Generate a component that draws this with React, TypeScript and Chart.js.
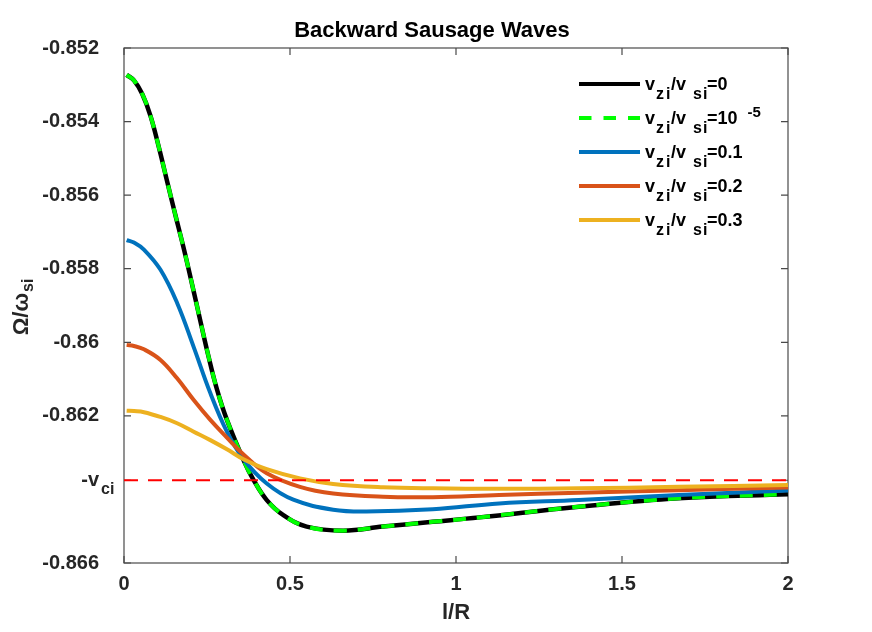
import React, { useEffect, useRef } from "react";
import { Chart, registerables } from "chart.js";

Chart.register(...registerables);

const FONT = "'Liberation Sans', Arial, Helvetica, sans-serif";
const TEXT = "#262626";

const titleText = "Backward Sausage Waves";
const xAxisTitle = "l/R";

const xTickValues = [0, 0.5, 1, 1.5, 2];
const yTickValues = [-0.866, -0.86375, -0.862, -0.86, -0.858, -0.856, -0.854, -0.852];
const yTickLabels = ["-0.866", "-v", "-0.862", "-0.86", "-0.858", "-0.856", "-0.854", "-0.852"];
const vciLevel = -0.86375;

// v_zi/v_si = 0 (and 1e-5, identical)
const lrZero = [0.008, 0.03, 0.055, 0.08, 0.105, 0.13, 0.155, 0.18, 0.205, 0.23, 0.255, 0.28, 0.31, 0.36, 0.39, 0.43, 0.48, 0.55, 0.66, 0.78, 0.93, 1.07, 1.37, 1.67, 2.0];
const omegaZero = [-0.85273, -0.85288, -0.85325, -0.85385, -0.8547, -0.85563, -0.85655, -0.85745, -0.85842, -0.85942, -0.8604, -0.86128, -0.86211, -0.8632, -0.86374, -0.86429, -0.8647, -0.86501, -0.86512, -0.86501, -0.86488, -0.86476, -0.86447, -0.86424, -0.86413];
const lrTiny = lrZero;
const omegaTiny = omegaZero;

// v_zi/v_si = 0.1
const lrBlue = [0.008, 0.03, 0.06, 0.11, 0.16, 0.21, 0.26, 0.31, 0.36, 0.43, 0.51, 0.63, 0.73, 0.93, 1.13, 1.37, 1.67, 2.0];
const omegaBlue = [-0.85722, -0.85729, -0.85748, -0.85803, -0.85893, -0.86013, -0.86138, -0.86243, -0.86318, -0.86384, -0.86428, -0.86455, -0.8646, -0.86454, -0.86438, -0.86429, -0.86415, -0.86403];

// v_zi/v_si = 0.2
const lrOrange = [0.008, 0.03, 0.06, 0.11, 0.16, 0.21, 0.26, 0.31, 0.36, 0.43, 0.53, 0.63, 0.78, 0.93, 1.13, 1.37, 1.67, 2.0];
const omegaOrange = [-0.86007, -0.8601, -0.86019, -0.86048, -0.86098, -0.86157, -0.86211, -0.86259, -0.86305, -0.86356, -0.86393, -0.86411, -0.8642, -0.86421, -0.86415, -0.86409, -0.86402, -0.86395];

// v_zi/v_si = 0.3
const lrYellow = [0.008, 0.03, 0.06, 0.11, 0.16, 0.21, 0.26, 0.31, 0.36, 0.43, 0.53, 0.63, 0.78, 0.93, 1.13, 1.37, 1.67, 2.0];
const omegaYellow = [-0.86186, -0.86187, -0.8619, -0.86203, -0.8622, -0.86243, -0.86266, -0.86291, -0.86318, -0.86345, -0.8637, -0.86385, -0.86394, -0.86397, -0.86398, -0.86397, -0.86393, -0.86388];

const lrVci = [0, 2];

const seriesColors = ["#000000", "#00ff00", "#0072bd", "#d95319", "#edb120"];
const legendValues = ["0", "10", "0.1", "0.2", "0.3"];
const legendSup = ["", "-5", "", "", ""];

function pts(xs: number[], ys: number[]) {
  return xs.map((x, i) => ({ x, y: ys[i] }));
}

const overlayPlugin = {
  id: "overlay",
  beforeDatasetsDraw(chart: any) {
    const ctx = chart.ctx;
    const { left, right, top, bottom } = chart.chartArea;
    const xs = chart.scales.x;
    const ys = chart.scales.y;
    ctx.save();
    ctx.strokeStyle = "#4a4a4a";
    ctx.lineWidth = 1.2;
    ctx.strokeRect(left, top, right - left, bottom - top);
    const tl = 7;
    ctx.beginPath();
    xTickValues.forEach((v) => {
      const px = xs.getPixelForValue(v);
      ctx.moveTo(px, bottom);
      ctx.lineTo(px, bottom - tl);
      ctx.moveTo(px, top);
      ctx.lineTo(px, top + tl);
    });
    yTickValues.forEach((v) => {
      const py = ys.getPixelForValue(v);
      ctx.moveTo(left, py);
      ctx.lineTo(left + tl, py);
      ctx.moveTo(right, py);
      ctx.lineTo(right - tl, py);
    });
    ctx.stroke();
    ctx.restore();
  },
  afterDraw(chart: any) {
    const ctx = chart.ctx;
    const { left, right } = chart.chartArea;
    const ys = chart.scales.y;
    ctx.save();
    ctx.fillStyle = "#000";
    ctx.textBaseline = "alphabetic";

    // title
    ctx.font = `bold 22px ${FONT}`;
    ctx.textAlign = "center";
    ctx.fillText(titleText, 432, 37);

    // x axis title
    ctx.fillStyle = TEXT;
    ctx.fillText(xAxisTitle, (left + right) / 2, 619);

    // y axis title, rotated
    ctx.save();
    ctx.translate(28, 307);
    ctx.rotate(-Math.PI / 2);
    ctx.textAlign = "left";
    ctx.font = `bold 22px ${FONT}`;
    const main = "\u03A9/\u03C9";
    const mw = ctx.measureText(main).width;
    ctx.font = `bold 16px ${FONT}`;
    const subW = ctx.measureText("si").width;
    const total = mw + subW + 1;
    ctx.font = `bold 22px ${FONT}`;
    ctx.fillText(main, -total / 2, 0);
    ctx.font = `bold 16px ${FONT}`;
    ctx.fillText("si", -total / 2 + mw + 1, 5);
    ctx.restore();

    // -v_ci subscript
    const pv = ys.getPixelForValue(vciLevel);
    ctx.textAlign = "left";
    ctx.font = `bold 16px ${FONT}`;
    ctx.fillStyle = TEXT;
    ctx.fillText("ci", 101, pv + 14);

    // legend
    const lx0 = 579;
    const lx1 = 640;
    const tx = 645;
    legendValues.forEach((val, i) => {
      const y = 84 + i * 34;
      ctx.save();
      ctx.strokeStyle = seriesColors[i];
      ctx.lineWidth = 4;
      ctx.lineCap = "butt";
      if (i === 1) ctx.setLineDash([12.5, 12]);
      ctx.beginPath();
      ctx.moveTo(lx0, y);
      ctx.lineTo(lx1, y);
      ctx.stroke();
      ctx.restore();

      ctx.fillStyle = "#000";
      const base = y + 6;
      ctx.font = `bold 18px ${FONT}`;
      ctx.fillText("v", tx, base);
      ctx.font = `bold 16px ${FONT}`;
      ctx.fillText("z", tx + 11, base + 9);
      ctx.fillText("i", tx + 21, base + 9);
      ctx.fillText("s", tx + 48, base + 9);
      ctx.fillText("i", tx + 58, base + 9);
      ctx.font = `bold 18px ${FONT}`;
      ctx.fillText("/v", tx + 26, base);
      const eq = "=" + val;
      ctx.fillText(eq, tx + 62, base);
      if (legendSup[i]) {
        const w = ctx.measureText(eq).width;
        ctx.font = `bold 15px ${FONT}`;
        ctx.fillText(legendSup[i], tx + 62 + w + 10, base - 7);
      }
    });

    ctx.restore();
  },
};

export default function App() {
  const ref = useRef<HTMLCanvasElement | null>(null);

  useEffect(() => {
    if (!ref.current) return;
    const lineBase = {
      pointRadius: 0,
      pointHoverRadius: 0,
      tension: 0.4,
      fill: false,
    };
    const chart = new Chart(ref.current, {
      type: "line",
      data: {
        datasets: [
          {
            ...lineBase,
            label: "-v_ci",
            data: pts(lrVci, [vciLevel, vciLevel]),
            borderColor: "#ff0000",
            borderWidth: 2,
            borderDash: [14, 10],
            borderCapStyle: "butt",
            tension: 0,
            order: 0,
          },
          {
            ...lineBase,
            label: "0.3",
            data: pts(lrYellow, omegaYellow),
            borderColor: seriesColors[4],
            borderWidth: 4,
            order: 1,
          },
          {
            ...lineBase,
            label: "0.2",
            data: pts(lrOrange, omegaOrange),
            borderColor: seriesColors[3],
            borderWidth: 4,
            order: 2,
          },
          {
            ...lineBase,
            label: "0.1",
            data: pts(lrBlue, omegaBlue),
            borderColor: seriesColors[2],
            borderWidth: 4,
            order: 3,
          },
          {
            ...lineBase,
            label: "1e-5",
            data: pts(lrTiny, omegaTiny),
            borderColor: seriesColors[1],
            borderWidth: 4,
            borderDash: [13, 11],
            borderCapStyle: "butt",
            order: 4,
          },
          {
            ...lineBase,
            label: "0",
            data: pts(lrZero, omegaZero),
            borderColor: seriesColors[0],
            borderWidth: 4.5,
            order: 5,
          },
        ],
      },
      options: {
        responsive: false,
        animation: false,
        layout: { padding: { top: 48, right: 84, bottom: 0, left: 0 } },
        plugins: {
          legend: { display: false },
          title: { display: false },
          tooltip: { enabled: false },
        },
        scales: {
          x: {
            type: "linear",
            min: 0,
            max: 2,
            grid: { display: false, drawTicks: false },
            border: { display: false },
            afterBuildTicks: (scale: any) => {
              scale.ticks = xTickValues.map((v) => ({ value: v }));
            },
            afterFit: (scale: any) => {
              scale.height = 69;
            },
            ticks: {
              padding: 9,
              color: TEXT,
              font: { family: FONT, size: 20, weight: "bold" },
              maxRotation: 0,
              autoSkip: false,
              callback: (v: any) => String(v),
            },
          },
          y: {
            type: "linear",
            min: -0.866,
            max: -0.852,
            grid: { display: false, drawTicks: false },
            border: { display: false },
            afterBuildTicks: (scale: any) => {
              scale.ticks = yTickValues.map((v) => ({ value: v }));
            },
            afterFit: (scale: any) => {
              scale.width = 124;
            },
            ticks: {
              padding: 25,
              color: TEXT,
              font: { family: FONT, size: 20, weight: "bold" },
              autoSkip: false,
              callback: (_v: any, i: number) => yTickLabels[i],
            },
          },
        },
      },
      plugins: [overlayPlugin],
    });
    return () => chart.destroy();
  }, []);

  return (
    <div style={{ position: "fixed", left: 0, top: 0, width: 872, height: 632, background: "#fff" }}>
      <canvas ref={ref} width={872} height={632} style={{ width: 872, height: 632, display: "block" }} />
    </div>
  );
}
